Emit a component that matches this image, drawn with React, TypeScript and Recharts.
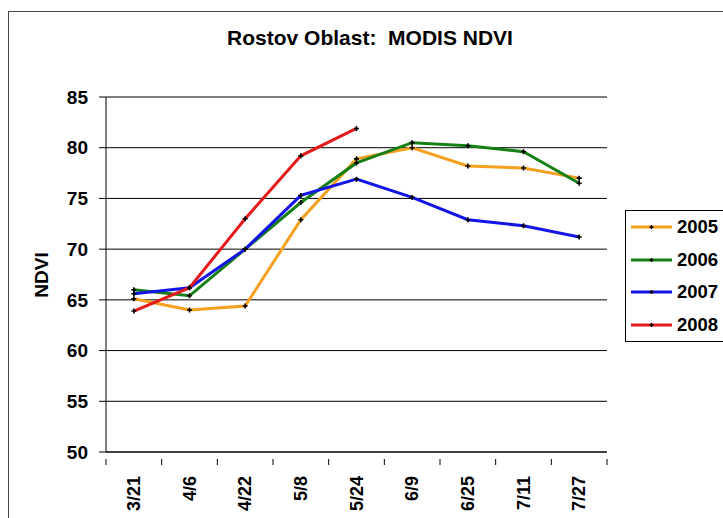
import { LineChart, Line, XAxis, YAxis, CartesianGrid } from 'recharts';

const dates = ['3/21', '4/6', '4/22', '5/8', '5/24', '6/9', '6/25', '7/11', '7/27'];
const ndvi2005 = [65.1, 64.0, 64.4, 72.9, 78.9, 80.0, 78.2, 78.0, 77.0];
const ndvi2006 = [66.0, 65.4, 70.0, 74.6, 78.5, 80.5, 80.2, 79.6, 76.5];
const ndvi2007 = [65.6, 66.2, 70.0, 75.3, 76.9, 75.1, 72.9, 72.3, 71.2];
const ndvi2008 = [63.9, 66.2, 73.0, 79.2, 81.9, null, null, null, null];
const yTicks = [50, 55, 60, 65, 70, 75, 80, 85];

const series = [
  { key: 'y2005', name: '2005', color: '#F5A01E', values: ndvi2005 },
  { key: 'y2006', name: '2006', color: '#168016', values: ndvi2006 },
  { key: 'y2007', name: '2007', color: '#1414E6', values: ndvi2007 },
  { key: 'y2008', name: '2008', color: '#E41A1C', values: ndvi2008 },
];

const data = dates.map((date, i) => {
  const row: Record<string, string | number | null> = { date };
  series.forEach((s) => {
    row[s.key] = s.values[i];
  });
  return row;
});

const FONT = '"Liberation Sans", Arial, sans-serif';

// small black cross used as the point marker
const Marker = (props: any) => {
  const { cx, cy, value } = props;
  if (cx == null || cy == null || value == null) return null;
  return (
    <path
      d={`M${cx - 2.5},${cy} h5 M${cx},${cy - 2.5} v5`}
      stroke="#000"
      strokeWidth={1.6}
      fill="none"
    />
  );
};

// rotated date label plus Excel-style tick marks on the slot boundaries
const DateTick = (props: any) => {
  const { x, y, payload, index } = props;
  const half = payload && payload.offset ? payload.offset : 0;
  const ty = y + 16;
  return (
    <g>
      <line x1={x - half} y1={y - 1} x2={x - half} y2={y + 5} stroke="#000" />
      {index === dates.length - 1 && (
        <line x1={x + half} y1={y - 1} x2={x + half} y2={y + 5} stroke="#000" />
      )}
      <text
        x={x}
        y={ty}
        transform={`rotate(-90 ${x} ${ty})`}
        textAnchor="end"
        dominantBaseline="central"
        fontSize={18}
        fontWeight="bold"
        fontFamily={FONT}
        fill="#000"
      >
        {payload.value}
      </text>
    </g>
  );
};

export default function App() {
  return (
    <div
      style={{
        position: 'absolute',
        left: 8,
        top: 11,
        width: 714,
        height: 506,
        borderLeft: '1px solid #444',
        borderTop: '1px solid #444',
        background: '#fff',
        overflow: 'hidden',
        fontFamily: FONT,
      }}
    >
      <div
        style={{
          position: 'absolute',
          left: 161,
          top: 15,
          width: 400,
          textAlign: 'center',
          fontSize: 21,
          lineHeight: '21px',
          fontWeight: 'bold',
          color: '#000',
        }}
      >
        Rostov Oblast:&nbsp; MODIS NDVI
      </div>
      <div
        style={{
          position: 'absolute',
          left: -17,
          top: 251,
          width: 100,
          height: 24,
          lineHeight: '24px',
          textAlign: 'center',
          fontSize: 19,
          fontWeight: 'bold',
          transform: 'rotate(-90deg)',
        }}
      >
        NDVI
      </div>
      <LineChart
        width={715}
        height={507}
        data={data}
        margin={{ top: 85, right: 117, bottom: 0, left: 0 }}
      >
        <CartesianGrid horizontal vertical={false} stroke="#000" strokeWidth={1} />
        <XAxis
          dataKey="date"
          scale="band"
          height={67}
          interval={0}
          axisLine={{ stroke: '#000' }}
          tickLine={false}
          tick={<DateTick />}
        />
        <XAxis xAxisId="top" orientation="top" height={0} tick={false} tickLine={false} axisLine={{ stroke: '#999' }} />
        <YAxis
          domain={[50, 85]}
          ticks={yTicks}
          width={97}
          interval={0}
          axisLine={{ stroke: '#000' }}
          tickLine={{ stroke: '#000' }}
          tickSize={7}
          tickMargin={11}
          tick={{ fill: '#000', fontSize: 19, fontWeight: 'bold', fontFamily: FONT }}
        />
        <YAxis yAxisId="right" orientation="right" width={0} tick={false} tickLine={false} axisLine={{ stroke: '#999' }} />
        {series.map((s) => (
          <Line
            key={s.key}
            dataKey={s.key}
            name={s.name}
            stroke={s.color}
            strokeWidth={3}
            dot={<Marker />}
            activeDot={false}
            isAnimationActive={false}
          />
        ))}
      </LineChart>
      <div
        style={{
          position: 'absolute',
          left: 616,
          top: 198,
          width: 110,
          border: '1px solid #000',
          background: '#fff',
        }}
      >
        {series.map((s) => (
          <div
            key={s.key}
            style={{ height: 32.5, display: 'flex', alignItems: 'center', fontSize: 18.5, fontWeight: 'bold' }}
          >
            <svg width={50} height={10} style={{ flex: 'none' }}>
              <line x1={5} y1={5} x2={46} y2={5} stroke={s.color} strokeWidth={3} />
              <path d="M23.5,5 h4 M25.5,3 v4" stroke="#000" strokeWidth={1.4} />
            </svg>
            <span style={{ marginLeft: 1 }}>{s.name}</span>
          </div>
        ))}
      </div>
    </div>
  );
}
